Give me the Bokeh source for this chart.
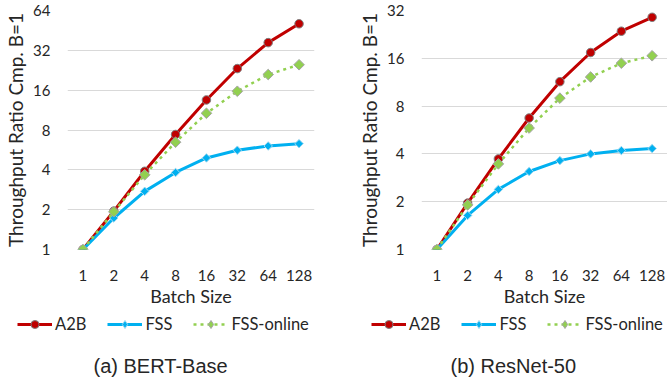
from bokeh.plotting import figure
from bokeh.layouts import row, column
from bokeh.models import FactorRange, Range1d, FixedTicker, Legend, LegendItem, Label
from bokeh.embed import file_html
from bokeh.resources import INLINE
import math

batch = ["1", "2", "4", "8", "16", "32", "64", "128"]

bert_a2b = [1, 1.95, 3.9, 7.4, 13.5, 23.3, 36.6, 50.8]
bert_fss = [1, 1.73, 2.75, 3.82, 4.92, 5.63, 6.06, 6.31]
bert_online = [1, 1.93, 3.67, 6.47, 10.7, 15.7, 21.0, 24.9]

resnet_a2b = [1, 1.96, 3.72, 6.73, 11.4, 17.4, 23.7, 29.0]
resnet_fss = [1, 1.64, 2.39, 3.1, 3.63, 4.0, 4.2, 4.32]
resnet_online = [1, 1.91, 3.46, 5.82, 8.98, 12.2, 14.9, 16.6]

bert_ticks = [1, 2, 4, 8, 16, 32, 64]
resnet_ticks = [1, 2, 4, 8, 16, 32]

series_names = ["A2B", "FSS", "FSS-online"]
captions = ["(a) BERT-Base", "(b) ResNet-50"]

FONT = "Lato"
TXT = "#262626"
COLORS = ["#c00000", "#00b0f0", "#92d050"]
TOP_H = 315
BOT_H = 382 - TOP_H


def draw_series(p, xs, ys_list, legend_style=False):
    a2b, fss, online = ys_list
    if legend_style:
        dkw_small = dict(marker="diamond", size=9)
        dkw_big = dict(marker="diamond", size=12)
    else:
        dkw_small = dict(marker="square", angle=math.pi / 4, size=6)
        dkw_big = dict(marker="square", angle=math.pi / 4, size=7.5)
    l1 = p.line(xs, a2b, line_color=COLORS[0], line_width=3)
    s1 = p.scatter(xs, a2b, marker="circle", size=8.5, fill_color=COLORS[0],
                   line_color="#7f7f7f", line_width=1)
    l2 = p.line(xs, fss, line_color=COLORS[1], line_width=3)
    s2 = p.scatter(xs, fss, fill_color=COLORS[1], line_color="#9fd8f0", line_width=1,
                   **dkw_small)
    l3 = p.line(xs, online, line_color=COLORS[2], line_width=2.5, line_dash="3 4")
    s3 = p.scatter(xs, online, fill_color=COLORS[2], line_color="#a5a5a5", line_width=1,
                   **dkw_big)
    return [[l1, s1], [l2, s2], [l3, s3]]


def make_chart(a2b, fss, online, ticks, width, bl, br, bt):
    p = figure(width=width, height=TOP_H, output_backend="svg", toolbar_location=None,
               x_range=FactorRange(factors=batch), y_axis_type="log",
               y_range=Range1d(ticks[0], ticks[-1]),
               min_border_left=bl, min_border_right=br, min_border_top=bt,
               min_border_bottom=TOP_H - 249)
    p.outline_line_color = None
    p.xgrid.grid_line_color = None
    p.ygrid.grid_line_color = "#d9d9d9"
    p.ygrid.grid_line_width = 1
    p.yaxis.ticker = FixedTicker(ticks=ticks)
    p.yaxis.major_label_overrides = {t: str(t) for t in ticks}
    for ax in (p.xaxis[0], p.yaxis[0]):
        ax.axis_line_color = None
        ax.major_tick_line_color = None
        ax.minor_tick_line_color = None
        ax.major_tick_out = 0
        ax.major_tick_in = 0
        ax.minor_tick_out = 0
        ax.minor_tick_in = 0
        ax.major_label_text_font = FONT
        ax.major_label_text_font_size = "15px"
        ax.major_label_text_color = TXT
        ax.axis_label_text_font = FONT
        ax.axis_label_text_font_style = "normal"
        ax.axis_label_text_color = TXT
    p.yaxis.axis_label_text_font_size = "19px"
    p.xaxis.axis_label_text_font_size = "18px"
    p.yaxis.axis_label = "Throughput Ratio Cmp. B=1"
    p.xaxis.axis_label = "Batch Size"
    p.yaxis.major_label_standoff = 17
    p.yaxis.axis_label_standoff = 3
    p.xaxis.major_label_standoff = 20
    p.xaxis.axis_label_standoff = 1
    draw_series(p, batch, [a2b, fss, online])
    return p


def make_legend(caption, ys_list, width, leg_x, cap_x):
    # legend strip: the series are drawn against a y range far above the data,
    # so only their legend swatches are visible
    q = figure(width=width, height=BOT_H, output_backend="svg", toolbar_location=None,
               x_range=FactorRange(factors=batch), y_axis_type="log",
               y_range=Range1d(1e6, 1e7),
               min_border=0, min_border_left=0, min_border_right=0,
               min_border_top=0, min_border_bottom=0)
    q.axis.visible = False
    q.outline_line_color = None
    q.xgrid.grid_line_color = None
    q.ygrid.grid_line_color = None
    groups = draw_series(q, batch, ys_list, legend_style=True)
    legend = Legend(items=[LegendItem(label=n, renderers=g) for n, g in zip(series_names, groups)],
                    orientation="horizontal", location=(leg_x, BOT_H - 9 - 10))
    legend.border_line_color = None
    legend.background_fill_alpha = 0
    legend.padding = 0
    legend.margin = 0
    legend.spacing = 21
    legend.glyph_width = 35
    legend.glyph_height = 20
    legend.label_height = 20
    legend.label_standoff = 3
    legend.label_text_font = FONT
    legend.label_text_font_size = "16.5px"
    legend.label_text_color = TXT
    q.add_layout(legend, "center")
    t = Label(x=cap_x, y=BOT_H - 50, x_units="screen", y_units="screen", text=caption,
              text_baseline="middle",
              text_font="Liberation Sans", text_font_size="20px", text_color=TXT)
    q.add_layout(t)
    return q


p1 = make_chart(bert_a2b, bert_fss, bert_online, bert_ticks, 333, 67, 19, 10)
p2 = make_chart(resnet_a2b, resnet_fss, resnet_online, resnet_ticks, 334, 88, 0, 9)
q1 = make_legend(captions[0], [bert_a2b, bert_fss, bert_online], 333, 17, 93)
q2 = make_legend(captions[1], [resnet_a2b, resnet_fss, resnet_online], 334, 38, 117)

layout = column(row(p1, p2), row(q1, q2))
open("out.html", "w").write(file_html(layout, INLINE))
